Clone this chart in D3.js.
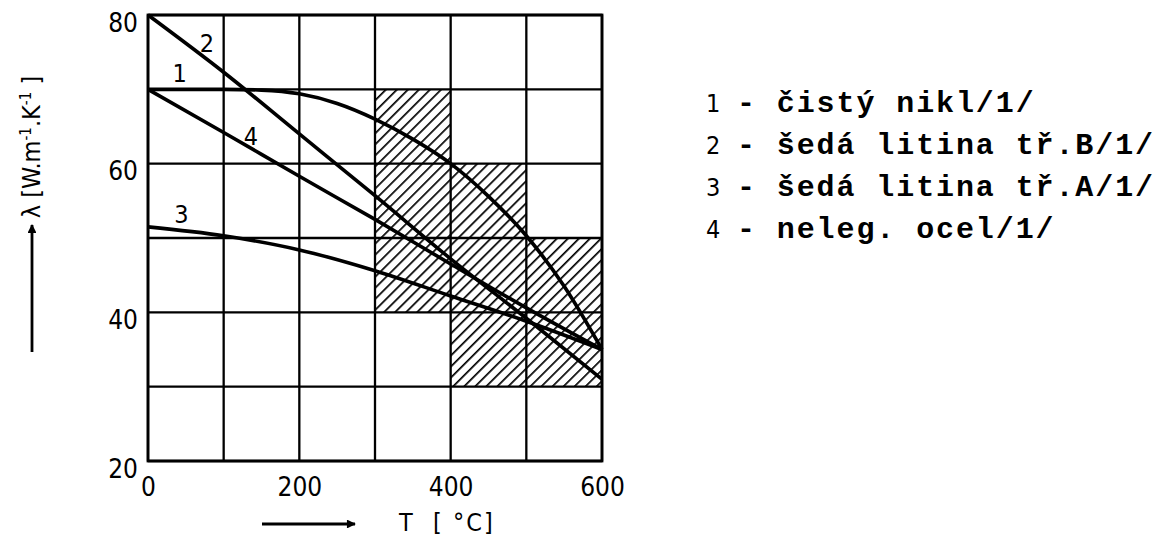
<!DOCTYPE html>
<html>
<head>
<meta charset="utf-8">
<script src="https://cdn.jsdelivr.net/npm/d3@7"></script>
<style>
  html, body { margin: 0; padding: 0; background: #fff; }
  svg { display: block; }
</style>
</head>
<body>
<svg id="chart" width="1163" height="537"></svg>
<script>
// ---------- data ----------
const xTickLabels = [0, 200, 400, 600];
const yTickLabels = [20, 40, 60, 80];
const xGrid = [0, 100, 200, 300, 400, 500, 600];
const yGrid = [20, 30, 40, 50, 60, 70, 80];

const curve1 = [[0,70],[100,70],[150,69.9],[200,69.4],[250,68.1],[300,66],[350,63.3],[400,60],[450,55.6],[500,50.3],[550,43.5],[600,35]];
const curve2 = [[0,80],[100,72.3],[200,64],[300,55.7],[400,47.2],[500,39.2],[600,31]];
const curve3 = [[0,51.5],[100,50.3],[200,48.4],[300,45.6],[400,42.2],[500,38.8],[600,35]];
const curve4 = [[0,70],[100,64.2],[200,58.3],[300,52.5],[400,46.5],[500,40.6],[600,35]];

// hatched cells: [T start, lambda start] each 100 x 10
const hatchCells = [[300,60],[300,50],[400,50],[300,40],[400,40],[500,40],[400,30],[500,30]];

// curve number labels: [label, T, lambda]
const curveLabels = [["2", 78, 76.1], ["1", 42, 72.1], ["4", 136, 63.6], ["3", 44, 53.1]];

const legendNums = ["1", "2", "3", "4"];
const legendTexts = ["- čistý nikl/1/", "- šedá litina tř.B/1/", "- šedá litina tř.A/1/", "- neleg. ocel/1/"];

// ---------- drawing ----------
const svg = d3.select("#chart");
const x = d3.scaleLinear().domain([0, 600]).range([148, 602]);
const y = d3.scaleLinear().domain([20, 80]).range([461, 15]);
const sans = "'DejaVu Sans Condensed', 'DejaVu Sans', sans-serif";

// hatch pattern
const defs = svg.append("defs");
const pat = defs.append("pattern")
  .attr("id", "hatch")
  .attr("patternUnits", "userSpaceOnUse")
  .attr("width", 7.8).attr("height", 7.8)
  .attr("patternTransform", "rotate(45)");
pat.append("line")
  .attr("x1", 0).attr("y1", -2).attr("x2", 0).attr("y2", 10)
  .attr("stroke", "#000").attr("stroke-width", 3.4);

svg.append("g").selectAll("rect").data(hatchCells).join("rect")
  .attr("x", d => x(d[0]))
  .attr("y", d => y(d[1] + 10))
  .attr("width", d => x(d[0] + 100) - x(d[0]))
  .attr("height", d => y(d[1]) - y(d[1] + 10))
  .attr("fill", "url(#hatch)");

// grid
const grid = svg.append("g").attr("stroke", "#000").attr("stroke-width", 2.3);
grid.selectAll("line.v").data(xGrid).join("line").attr("class", "v")
  .attr("x1", d => x(d)).attr("x2", d => x(d))
  .attr("y1", y(20)).attr("y2", y(80));
grid.selectAll("line.h").data(yGrid).join("line").attr("class", "h")
  .attr("x1", x(0)).attr("x2", x(600))
  .attr("y1", d => y(d)).attr("y2", d => y(d));

// frame
svg.append("rect")
  .attr("x", x(0)).attr("y", y(80))
  .attr("width", x(600) - x(0)).attr("height", y(20) - y(80))
  .attr("fill", "none").attr("stroke", "#000").attr("stroke-width", 2.8);

// curves
const line = d3.line().x(d => x(d[0])).y(d => y(d[1])).curve(d3.curveMonotoneX);
svg.append("g").selectAll("path").data([curve1, curve2, curve3, curve4]).join("path")
  .attr("d", line)
  .attr("fill", "none").attr("stroke", "#000").attr("stroke-width", 3.6)
  .attr("stroke-linejoin", "round");

// curve labels
svg.append("g").selectAll("text").data(curveLabels).join("text")
  .attr("x", d => x(d[1])).attr("y", d => y(d[2]))
  .attr("text-anchor", "middle").attr("dominant-baseline", "central")
  .attr("font-family", sans).attr("font-size", 25).attr("fill", "#000")
  .text(d => d[0]);

// axes (tick labels only)
const xAxis = svg.append("g").attr("transform", `translate(0,${y(20)})`)
  .call(d3.axisBottom(x).tickValues(xTickLabels).tickSize(0).tickPadding(35).tickFormat(d3.format("d")));
xAxis.select(".domain").remove();
xAxis.selectAll("text").attr("font-family", sans).attr("font-size", 26).attr("fill", "#000").attr("dy", 0);

const yAxis = svg.append("g").attr("transform", `translate(${x(0)},0)`)
  .call(d3.axisLeft(y).tickValues(yTickLabels).tickSize(0).tickPadding(10).tickFormat(d3.format("d")));
yAxis.select(".domain").remove();
yAxis.selectAll("text").attr("font-family", sans).attr("font-size", 26).attr("fill", "#000").attr("dy", "0.62em");

// y title (rotated)
const yt = svg.append("text")
  .attr("transform", "translate(40,147) rotate(-90)")
  .attr("text-anchor", "middle")
  .attr("font-family", sans).attr("font-size", 25).attr("fill", "#000");
yt.append("tspan").text("λ  [W.m");
yt.append("tspan").attr("baseline-shift", "super").attr("font-size", 15).text("-1");
yt.append("tspan").text(".K");
yt.append("tspan").attr("baseline-shift", "super").attr("font-size", 15).text("-1");
yt.append("tspan").text(" ]");

// arrows
defs.append("marker").attr("id", "arr")
  .attr("viewBox", "0 0 10 10").attr("refX", 9).attr("refY", 5)
  .attr("markerWidth", 6).attr("markerHeight", 3.2).attr("orient", "auto")
  .append("path").attr("d", "M0,0 L10,5 L0,10 z").attr("fill", "#000");

svg.append("line").attr("x1", 32).attr("y1", 352).attr("x2", 32).attr("y2", 225)
  .attr("stroke", "#000").attr("stroke-width", 2.8).attr("marker-end", "url(#arr)");
svg.append("line").attr("x1", 262).attr("y1", 524).attr("x2", 355).attr("y2", 524)
  .attr("stroke", "#000").attr("stroke-width", 2.8).attr("marker-end", "url(#arr)");

// x title
svg.append("text").attr("x", 399).attr("y", 531)
  .attr("font-family", sans).attr("font-size", 25).attr("fill", "#000")
  .attr("xml:space", "preserve").attr("letter-spacing", 2)
  .text("T  [ °C]");

// legend
const leg = svg.append("g");
const legRows = leg.selectAll("g").data(legendNums).join("g")
  .attr("transform", (d, i) => `translate(706,${112 + i * 42})`);
legRows.append("text")
  .attr("font-family", sans).attr("font-size", 25).attr("fill", "#000")
  .text(d => d);
legRows.append("text").attr("x", 31)
  .attr("font-family", "'Liberation Mono', 'Courier New', monospace")
  .attr("font-weight", "bold").attr("font-size", 30).attr("letter-spacing", 1.9)
  .attr("fill", "#000")
  .text((d, i) => legendTexts[i]);
</script>
</body>
</html>
